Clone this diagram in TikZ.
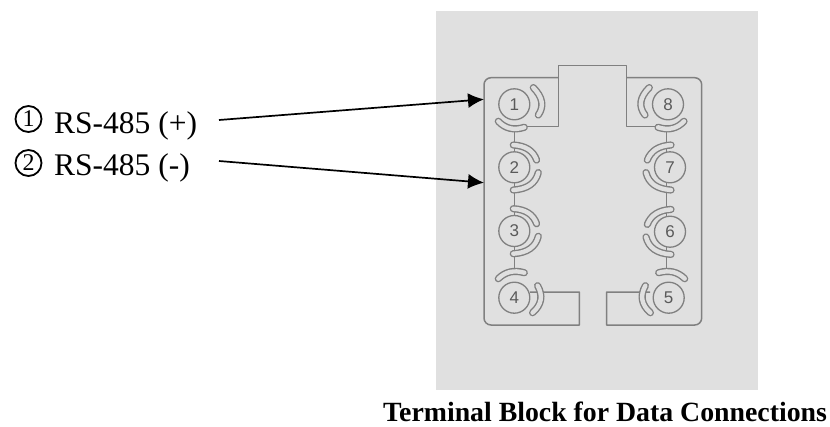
\documentclass[tikz,border=0pt]{standalone}
\usepackage{fontspec}
\setmainfont{Liberation Serif}
\newfontfamily\digitfont{Liberation Sans}
\usetikzlibrary{arrows.meta,calc}
\definecolor{panel}{HTML}{E0E0E0}
\definecolor{wire}{HTML}{808080}
\definecolor{ink}{HTML}{5A5A5A}
\tikzset{
  x=1pt,y=-1pt,
  outline/.style={draw=wire,line width=1.5pt,line join=round},
  terminal/.style={circle,draw=wire,line width=1.3pt,fill=panel,minimum size=31pt,inner sep=0pt,
    text=ink,font=\digitfont\fontsize{17}{17}\selectfont},
  slotouter/.style={draw=wire,line width=7.2pt,line cap=round},
  slotinner/.style={draw=panel,line width=4.4pt,line cap=round},
  pinlabel/.style={anchor=base west,inner sep=0pt,font=\fontsize{31.5}{32}\selectfont},
  pinmark/.style={circle,draw=black,line width=1.8pt,minimum size=26pt,inner sep=0pt,font=\fontsize{24}{24}\selectfont},
  leader/.style={draw=black,line width=1.7pt,-{Latex[length=16pt,width=15pt]}},
  caption/.style={anchor=base west,inner sep=0pt,font=\bfseries\fontsize{27.8}{28}\selectfont}
}
% arc through three points: start, midpoint of the curve, end
\newcommand{\slotarc}[3]{%
  \path[slotouter] #1 .. controls ($4/3*#2-1/3*#3$) and ($4/3*#2-1/3*#1$) .. #3;
  \path[slotinner] #1 .. controls ($4/3*#2-1/3*#3$) and ($4/3*#2-1/3*#1$) .. #3;
}
\begin{document}
\begin{tikzpicture}
\useasboundingbox (0,0) rectangle (830,426);
\fill[white] (0,0) rectangle (830,426);
\fill[panel] (436,11) rectangle (758,390);
% housing
\draw[outline] (558.7,77.7) [rounded corners=7pt] -- (484,77.7) -- (484,325) [sharp corners] -- (579.3,325) -- (579.3,292) -- (530,292);
\draw[outline] (626.3,77.7) [rounded corners=7pt] -- (701.7,77.7) -- (701.7,325) [sharp corners] -- (606.7,325) -- (606.7,292) -- (650,292);
\draw[outline] (514.3,126.3) -- (558.7,126.3) -- (558.7,65.7) -- (626.3,65.7) -- (626.3,126.3) -- (666.3,126.3);
% links
\draw[outline] (514.3,126.3) -- (514.3,272);
\draw[outline] (666.3,126.3) -- (666.3,272);
% slots, left column
\begin{scope}[shift={(514.3,104.3)}]
  \slotarc{(19,-16.7)}{(27.3,-2.7)}{(24,10.7)}
  \slotarc{(-16,17)}{(-4.3,24)}{(10,23)}
\end{scope}
\begin{scope}[shift={(514.3,167.3)}]
  \slotarc{(-1,-22.3)}{(14,-18)}{(22.3,-7.3)}
  \slotarc{(-1,22.7)}{(15.7,17.7)}{(24,5.3)}
\end{scope}
\begin{scope}[shift={(514.3,231)}]
  \slotarc{(-1,-22.3)}{(14,-18)}{(22.3,-7.3)}
  \slotarc{(-1,22.7)}{(15.7,17.7)}{(24,5.3)}
\end{scope}
\begin{scope}[shift={(514.3,297.7)}]
  \slotarc{(-16,-19)}{(-4.3,-25.7)}{(10,-25)}
  \slotarc{(23.3,-12)}{(26.3,2.3)}{(18.3,15)}
\end{scope}
% slots, right column
\begin{scope}[shift={(668,104.3)}]
  \slotarc{(-18.7,-16.7)}{(-27,-2.7)}{(-23,10.7)}
  \slotarc{(16,17)}{(4.3,24)}{(-10,23)}
\end{scope}
\begin{scope}[shift={(670,167.3)}]
  \slotarc{(1,-22.3)}{(-14,-18)}{(-22.7,-7.3)}
  \slotarc{(1,22.7)}{(-15.7,17.7)}{(-24,5.3)}
\end{scope}
\begin{scope}[shift={(670,231.7)}]
  \slotarc{(1,-22.3)}{(-14,-18)}{(-22.7,-7.3)}
  \slotarc{(1,22.7)}{(-15.7,17.7)}{(-24,5.3)}
\end{scope}
\begin{scope}[shift={(668.7,297.7)}]
  \slotarc{(16,-19)}{(4.3,-25.7)}{(-10,-25)}
  \slotarc{(-23.3,-12)}{(-26.3,2.3)}{(-18.3,15)}
\end{scope}
% terminals
\node[terminal] (t1) at (514.3,104.3) {1};
\node[terminal] (t2) at (514.3,167.3) {2};
\node[terminal] (t3) at (514.3,231) {3};
\node[terminal] (t4) at (514.3,297.7) {4};
\node[terminal] (t8) at (668,104.3) {8};
\node[terminal] (t7) at (670,167.3) {7};
\node[terminal] (t6) at (670,231.7) {6};
\node[terminal] (t5) at (668.7,297.7) {5};
% labels
\node[pinmark] (m1) at (28.5,119) {1};
\node[pinmark] (m2) at (28.5,163) {2};
\node[pinlabel] (l1) at (54,133) {RS-485 (+)};
\node[pinlabel] (l2) at (54,175.5) {RS-485 (-)};
\coordinate (a1) at (484,99.3);
\coordinate (a2) at (484,182.7);
\coordinate (s1) at (219,120);
\coordinate (s2) at (219,161);
\draw[leader] (s1) -- (a1);
\draw[leader] (s2) -- (a2);
\node[caption] (cap) at (383,421.5) {Terminal Block for Data Connections};
\end{tikzpicture}
\end{document}
